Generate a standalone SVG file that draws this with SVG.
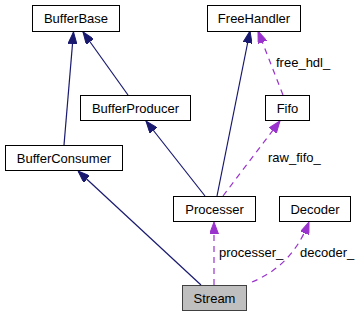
<svg xmlns="http://www.w3.org/2000/svg" width="359" height="317" viewBox="0 0 359 317">
  <style>
    .node rect { fill: #ffffff; stroke: #000000; stroke-width: 1; }
    .node.current rect { fill: #bfbfbf; stroke: #404040; }
    text { font-family: "Liberation Sans", Arial, sans-serif; font-size: 13px; fill: #000000; }
    .node text { text-anchor: middle; }
    .inh { fill: none; stroke: #191970; stroke-width: 1.2; marker-end: url(#arrowInh); }
    .use { fill: none; stroke: #9a32cd; stroke-width: 1.2; stroke-dasharray: 6,5; marker-end: url(#arrowUse); }
  </style>
  <defs>
    <marker id="arrowInh" viewBox="0 0 12 9" refX="12" refY="4.5" markerWidth="12" markerHeight="9" markerUnits="userSpaceOnUse" orient="auto">
      <path d="M0,0 L12,4.5 L0,9 Z" fill="#191970" stroke="#191970"/>
    </marker>
    <marker id="arrowUse" viewBox="0 0 12 9" refX="12" refY="4.5" markerWidth="12" markerHeight="9" markerUnits="userSpaceOnUse" orient="auto">
      <path d="M0,0 L12,4.5 L0,9 Z" fill="#9a32cd" stroke="#9a32cd"/>
    </marker>
  </defs>

  <g id="connectors">
    <path class="inh" d="M64,145 L73.5,32"/>
    <path class="inh" d="M128,95 L83,32"/>
    <path class="inh" d="M205,196 L146,121"/>
    <path class="inh" d="M217,196 L250,31"/>
    <path class="inh" d="M201,285 L78,171"/>
    <path class="use" d="M214,285 L214,222"/>
    <path class="use" d="M252,282 C274,273 296,256 309,222"/>
    <path class="use" d="M223,196 L280,121"/>
    <path class="use" d="M283,95 L258,31"/>
    <text x="276" y="67">free_hdl_</text>
    <text x="268" y="162">raw_fifo_</text>
    <text x="219" y="257">processer_</text>
    <text x="300" y="257">decoder_</text>
  </g>

  <g id="BufferBase" class="node">
    <rect x="32.5" y="5.5" width="87" height="26"/>
    <text x="76" y="23">BufferBase</text>
  </g>
  <g id="FreeHandler" class="node">
    <rect x="207.5" y="5.5" width="93" height="26"/>
    <text x="254" y="23">FreeHandler</text>
  </g>
  <g id="BufferProducer" class="node">
    <rect x="80.5" y="95.5" width="110" height="25"/>
    <text x="135.5" y="112.5">BufferProducer</text>
  </g>
  <g id="Fifo" class="node">
    <rect x="265.5" y="95.5" width="44" height="25"/>
    <text x="287.5" y="112.5">Fifo</text>
  </g>
  <g id="BufferConsumer" class="node">
    <rect x="5.5" y="145.5" width="117" height="25"/>
    <text x="64" y="162.5">BufferConsumer</text>
  </g>
  <g id="Processer" class="node">
    <rect x="173.5" y="196.5" width="82" height="25"/>
    <text x="214.5" y="213.5">Processer</text>
  </g>
  <g id="Decoder" class="node">
    <rect x="279.5" y="196.5" width="71" height="25"/>
    <text x="315" y="213.5">Decoder</text>
  </g>
  <g id="Stream" class="node current">
    <rect x="182.5" y="285.5" width="64" height="25"/>
    <text x="214.5" y="302.5">Stream</text>
  </g>
</svg>
